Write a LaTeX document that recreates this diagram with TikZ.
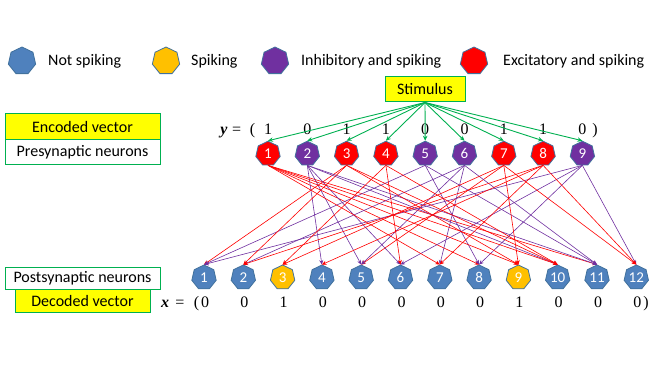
\documentclass[tikz,border=0pt]{standalone}
\usepackage{fontspec}
\setmainfont{Carlito}
\newfontfamily\numfont{Liberation Serif}
\usetikzlibrary{shapes.geometric,arrows.meta}
\definecolor{nblue}{HTML}{4F81BD}
\definecolor{nborder}{HTML}{41719C}
\definecolor{nred}{HTML}{FF0000}
\definecolor{npurple}{HTML}{7030A0}
\definecolor{norange}{HTML}{FFC000}
\definecolor{byellow}{HTML}{FFFF00}
\definecolor{bgreen}{HTML}{00B050}
\begin{document}
\begin{tikzpicture}[x=1pt,y=-1pt,
  neuron/.style={regular polygon, regular polygon sides=7, minimum size=25pt, inner sep=0pt,
    draw=nborder, line width=0.8pt, text=white, font=\fontsize{15}{15}\selectfont},
  legnode/.style={neuron, minimum size=28pt},
  lbl/.style={anchor=west, inner sep=0pt, font=\fontsize{16}{18}\selectfont},
  tbox/.style={draw=bgreen, line width=1pt, inner sep=0pt, font=\fontsize{16}{18}\selectfont},
  vec/.style={anchor=base, inner sep=0pt, font=\numfont\fontsize{16}{16}\selectfont},
  conr/.style={draw=nred, line width=0.6pt, -{Stealth[length=4.5pt,width=4pt]}},
  conp/.style={draw=npurple, line width=0.6pt, -{Stealth[length=4.5pt,width=4pt]}},
  stimarrow/.style={draw=bgreen, line width=0.9pt, -{Stealth[length=5pt,width=4.5pt]}}
]
\useasboundingbox (0,0) rectangle (664,374);

% legend
\node[legnode, fill=nblue] (l1) at (22,61) {};
\node[lbl] (t1) at (48,61) {Not spiking};
\node[legnode, fill=norange] (l2) at (166,61) {};
\node[lbl] (t2) at (191,61) {Spiking};
\node[legnode, fill=npurple] (l3) at (275,61) {};
\node[lbl] (t3) at (301,61) {Inhibitory and spiking};
\node[legnode, fill=nred] (l4) at (474,61) {};
\node[lbl] (t4) at (503,61) {Excitatory and spiking};

% stimulus
\node[tbox, fill=byellow, minimum width=80pt, minimum height=25pt] (stim) at (425,89.5) {Stimulus};

% left boxes
\node[tbox, fill=byellow, minimum width=155pt, minimum height=26pt] (enc) at (82.5,127) {Encoded vector};
\node[tbox, fill=white, minimum width=155pt, minimum height=25pt] (presyn) at (82.5,152.5) {Presynaptic neurons};
\node[tbox, fill=white, minimum width=155pt, minimum height=22pt] (postsyn) at (82.5,278) {Postsynaptic neurons};
\node[tbox, fill=byellow, minimum width=135pt, minimum height=23pt] (dec) at (82.5,301) {Decoded vector};

% presynaptic neurons
\foreach \i/\c in {1/nred,2/npurple,3/nred,4/nred,5/npurple,6/npurple,7/nred,8/nred,9/npurple}
  \node[neuron, fill=\c] (p\i) at ({268+39.3*(\i-1)},153.7) {\i};

% postsynaptic neurons
\foreach \j/\c in {1/nblue,2/nblue,3/norange,4/nblue,5/nblue,6/nblue,7/nblue,8/nblue,9/norange,10/nblue,11/nblue,12/nblue}
  \node[neuron, fill=\c] (q\j) at ({204+39.3*(\j-1)},277.5) {\j};

% encoded vector y
\node[vec] (ysym) at (224,135) {\bfseries\itshape y};
\node[vec] (yeq) at (236.7,135) {=};
\node[vec] (ypar) at (252.5,135) {(};
\foreach \i/\v in {1/1,2/0,3/1,4/1,5/0,6/0,7/1,8/1,9/0}
  \node[vec] (yv\i) at ({268+39.3*(\i-1)},135) {\v};
\node[vec] (ycl) at (595,135) {)};

% decoded vector x
\node[vec] (xsym) at (165,307.5) {\bfseries\itshape x};
\node[vec] (xeq) at (180,307.5) {=};
\node[vec] (xpar) at (196.5,307.5) {(};
\foreach \j/\v in {1/0,2/0,3/1,4/0,5/0,6/0,7/0,8/0,9/1,10/0,11/0,12/0}
  \node[vec] (xv\j) at ({205+39.3*(\j-1)},307.5) {\v};
\node[vec] (xcl) at (646,307.5) {)};

% stimulus arrows
\foreach \i in {1,...,9}
  \draw[stimarrow] (stim.south) -- (p\i.north);

% connections
\foreach \a/\b in {3/1,7/5,1/8,1/11}
  \draw[conr] (p\a.south) -- (q\b.north);
\foreach \a/\b in {2/4,2/5,2/6,2/10,2/11,5/1,5/8,5/11,6/2,6/5,6/7,6/11,9/1,9/6,9/8,9/12}
  \draw[conp] (p\a.south) -- (q\b.north);
\foreach \a/\b in {1/7,1/9,1/10,3/2,3/9,3/10,4/3,4/6,4/10,7/3,7/9,7/12,8/2,8/4,8/7,8/12}
  \draw[conr] (p\a.south) -- (q\b.north);
\end{tikzpicture}
\end{document}
